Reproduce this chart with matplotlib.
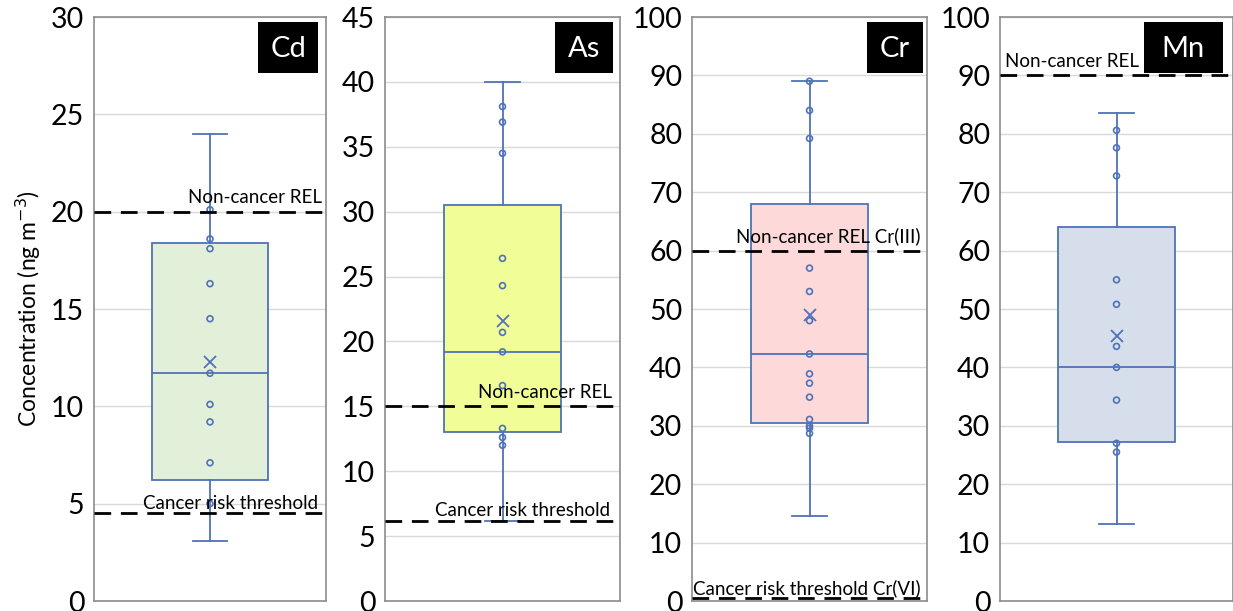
import matplotlib
matplotlib.use("Agg")
import matplotlib.pyplot as plt
from matplotlib.patches import Rectangle

# metals and box statistics (ng m-3)
metals = ["Cd", "As", "Cr", "Mn"]
whisker_low = [3.1, 6.2, 14.5, 13.1]
q1 = [6.2, 13.0, 30.5, 27.3]
median = [11.7, 19.2, 42.3, 40.0]
q3 = [18.4, 30.5, 68.0, 64.0]
whisker_high = [24.0, 40.0, 89.0, 83.6]
mean = [12.3, 21.6, 49.0, 45.3]

inner_points = [
    [20.1, 18.6, 18.1, 16.3, 14.5, 11.7, 10.1, 9.2, 7.1, 5.0],
    [38.1, 36.9, 34.5, 26.4, 24.3, 20.7, 19.2, 16.6, 13.3, 12.6, 12.0],
    [89.0, 84.0, 79.2, 57.0, 53.0, 48.0, 42.3, 38.9, 37.3, 34.9, 31.1, 30.0, 29.6, 28.7],
    [80.6, 77.6, 72.8, 55.0, 50.8, 43.6, 40.0, 34.4, 27.0, 25.5],
]

y_max = [30, 45, 100, 100]
y_step = [5, 5, 10, 10]

# reference lines: (value, label) per metal
non_cancer = [(20.0, "Non-cancer REL"), (15.0, "Non-cancer REL"),
              (60.0, "Non-cancer REL Cr(III)"), (90.0, "Non-cancer REL")]
cancer = [(4.5, "Cancer risk threshold"), (6.2, "Cancer risk threshold"),
          (0.5, "Cancer risk threshold Cr(VI)"), None]

fills = ["#e2efd9", "#f1fd96", "#fdd9d9", "#d6ddeb"]
edge = "#4f72b8"

plt.rcParams["font.family"] = ["Lato", "DejaVu Sans"]

W, H = 1233, 611
fig = plt.figure(figsize=(W / 100, H / 100), dpi=100)

# panel frames in pixels: left, width
frames = [(94, 232), (385, 235), (692, 235), (1000, 233)]
top_px, bottom_px = 17, 601

# placement of the texts (x in axes fraction, ha)
nc_pos = [(0.983, "right"), (0.966, "right"), (0.974, "right"), (0.02, "left")]
ca_pos = [(0.966, "right"), (0.957, "right"), (0.004, "left"), None]
tag_pos = [(0.707, 0.966), (0.723, 0.970), (0.745, 0.983), (0.618, 0.957)]

for i, name in enumerate(metals):
    left, width = frames[i]
    ax = fig.add_axes([left / W, (H - bottom_px) / H, width / W,
                       (bottom_px - top_px) / H])

    stats = [dict(whislo=whisker_low[i], q1=q1[i], med=median[i], q3=q3[i],
                  whishi=whisker_high[i], mean=mean[i], fliers=[])]
    ax.bxp(stats, positions=[1], widths=1.0, capwidths=0.3, patch_artist=True,
           showmeans=True, showfliers=False,
           boxprops=dict(facecolor=fills[i], edgecolor=edge, linewidth=1.3),
           medianprops=dict(color=edge, linewidth=1.3),
           whiskerprops=dict(color=edge, linewidth=1.3),
           capprops=dict(color=edge, linewidth=1.3),
           meanprops=dict(marker="x", markeredgecolor=edge, markersize=9,
                          markeredgewidth=1.3))
    ax.scatter([1] * len(inner_points[i]), inner_points[i], s=18,
               facecolors="none", edgecolors=edge, linewidths=1.2, zorder=4)

    ax.set_xlim(0, 2)
    ax.set_ylim(0, y_max[i])
    ax.set_yticks(range(0, y_max[i] + 1, y_step[i]))
    ax.set_xticks([])
    ax.tick_params(axis="y", length=0, labelsize=20.5, pad=7, colors="black")
    ax.grid(axis="y", color="#d9d9d9", linewidth=1)
    ax.set_axisbelow(True)
    for sp in ax.spines.values():
        sp.set_color("#8c8c8c")
        sp.set_linewidth(1.2)

    trans = ax.get_yaxis_transform()
    val, label = non_cancer[i]
    ax.axhline(val, color="black", linestyle=(0, (6, 3.5)), linewidth=2, zorder=5)
    ax.annotate(label, (nc_pos[i][0], val), xycoords=trans, xytext=(0, 4),
                textcoords="offset points", ha=nc_pos[i][1], va="bottom",
                fontsize=13.5, zorder=6)
    if cancer[i] is not None:
        val, label = cancer[i]
        ax.axhline(val, color="black", linestyle=(0, (6, 3.5)), linewidth=2,
                   zorder=5)
        ax.annotate(label, (ca_pos[i][0], val), xycoords=trans, xytext=(0, 1),
                    textcoords="offset points", ha=ca_pos[i][1], va="bottom",
                    fontsize=13.5, zorder=6)

    x0, x1 = tag_pos[i]
    ax.add_patch(Rectangle((x0, 0.904), x1 - x0, 0.087, transform=ax.transAxes,
                           facecolor="black", edgecolor="none", zorder=7))
    ax.text((x0 + x1) / 2, 0.946, name, transform=ax.transAxes, color="white",
            ha="center", va="center", fontsize=21, zorder=8)

    if i == 0:
        ax.set_ylabel("Concentration (ng m$^{-3}$)", fontsize=16.5, labelpad=6)

fig.savefig("out.png", dpi=100)
